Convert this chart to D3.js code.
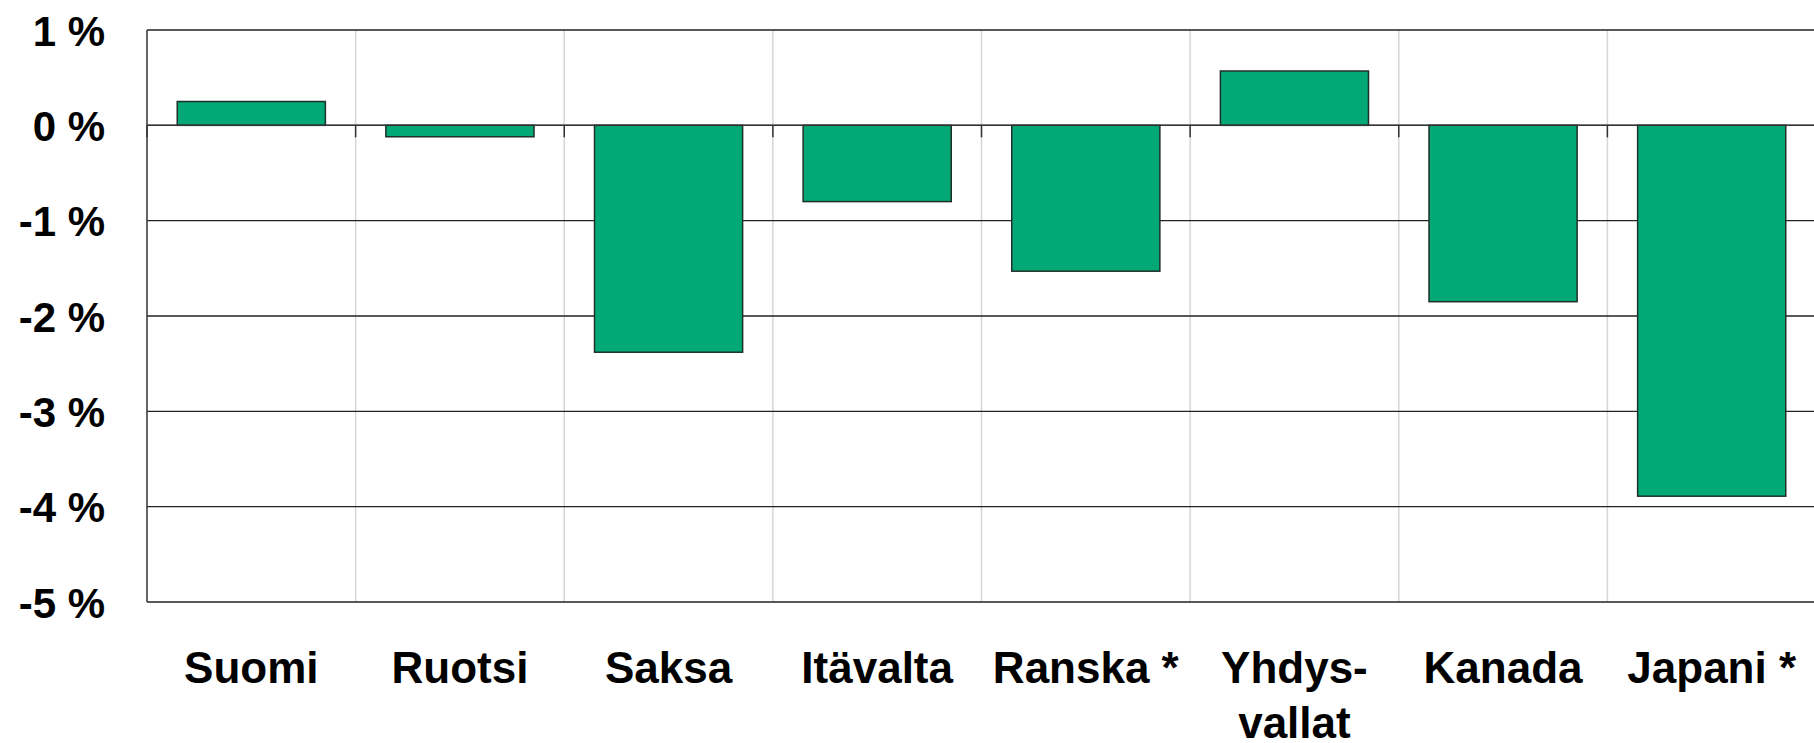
<!DOCTYPE html>
<html>
<head>
<meta charset="utf-8">
<script src="https://cdn.jsdelivr.net/npm/d3@7"></script>
<style>
  body { margin: 0; background: #fff; }
  text { font-family: "Liberation Sans", Arial, sans-serif; font-weight: bold; fill: #000; }
</style>
</head>
<body>
<svg id="chart" width="1814" height="743"></svg>
<script>
// maat ja muutos (%)
const countries = ['Suomi', 'Ruotsi', 'Saksa', 'Itävalta', 'Ranska *', 'Yhdys-\nvallat', 'Kanada', 'Japani *'];
const values = [0.25, -0.12, -2.38, -0.80, -1.53, 0.57, -1.85, -3.89];
const y_ticks = [1, 0, -1, -2, -3, -4, -5];

let svg = d3.select('#chart');

let plot_left = 147, plot_right = 1816, plot_top = 30, plot_bottom = 602;

let x = d3.scaleBand()
    .domain(countries)
    .range([plot_left, plot_right])
    .padding(0);

let y = d3.scaleLinear()
    .domain([-5, 1])
    .range([plot_bottom, plot_top]);

let bar_width = x.bandwidth() * 0.71;

// pystyviivat kategorioiden välissä
let boundaries = countries.slice(1).map(d => x(d));
svg.append('g').selectAll('line')
    .data(boundaries)
    .join('line')
    .attr('x1', d => d).attr('x2', d => d)
    .attr('y1', plot_top).attr('y2', plot_bottom)
    .attr('stroke', '#d6d6d6')
    .attr('stroke-width', 1.5);

// vaakaviivat
svg.append('g').selectAll('line')
    .data(y_ticks)
    .join('line')
    .attr('x1', plot_left).attr('x2', plot_right)
    .attr('y1', d => y(d)).attr('y2', d => y(d))
    .attr('stroke', '#222')
    .attr('stroke-width', 1.4);

// vasen reuna
svg.append('line')
    .attr('x1', plot_left).attr('x2', plot_left)
    .attr('y1', plot_top).attr('y2', plot_bottom)
    .attr('stroke', '#333')
    .attr('stroke-width', 1.5);

// palkit
svg.append('g').selectAll('rect')
    .data(countries)
    .join('rect')
    .attr('x', d => x(d) + (x.bandwidth() - bar_width) / 2)
    .attr('y', (d, i) => Math.min(y(values[i]), y(0)))
    .attr('width', bar_width)
    .attr('height', (d, i) => Math.abs(y(values[i]) - y(0)))
    .attr('fill', '#02a876')
    .attr('stroke', '#1f2f29')
    .attr('stroke-width', 1.5);

// nollaviiva ja pienet merkit
svg.append('line')
    .attr('x1', plot_left).attr('x2', plot_right)
    .attr('y1', y(0)).attr('y2', y(0))
    .attr('stroke', '#333')
    .attr('stroke-width', 1.5);

svg.append('g').selectAll('line')
    .data([plot_left].concat(boundaries))
    .join('line')
    .attr('x1', d => d).attr('x2', d => d)
    .attr('y1', y(0)).attr('y2', y(0) + 12)
    .attr('stroke', '#333')
    .attr('stroke-width', 1.5);

// y-akselin tekstit
svg.append('g').selectAll('text')
    .data(y_ticks)
    .join('text')
    .attr('x', 105)
    .attr('y', d => y(d))
    .attr('dy', '0.37em')
    .attr('text-anchor', 'end')
    .style('font-size', '42px')
    .text(d => d + ' %');

// x-akselin tekstit
let labels = svg.append('g').selectAll('text')
    .data(countries)
    .join('text')
    .attr('text-anchor', 'middle')
    .style('font-size', '44px');

labels.selectAll('tspan')
    .data(d => d.split('\n').map(t => ({ t: t, c: d })))
    .join('tspan')
    .attr('x', d => x(d.c) + x.bandwidth() / 2)
    .attr('y', (d, i) => 683 + i * 55)
    .text(d => d.t);
</script>
</body>
</html>
